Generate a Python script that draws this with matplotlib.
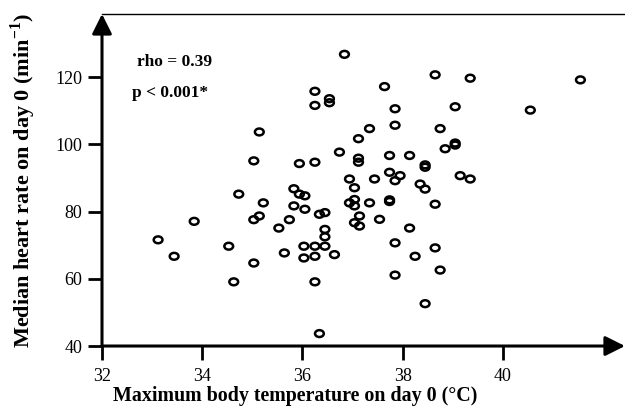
import matplotlib
matplotlib.use("Agg")
import matplotlib.pyplot as plt
from matplotlib.path import Path
from matplotlib.transforms import Affine2D

plt.rcParams['font.family'] = ['Liberation Serif', 'DejaVu Serif']
plt.rcParams['mathtext.fontset'] = 'custom'
plt.rcParams['mathtext.rm'] = 'Liberation Serif'
plt.rcParams['mathtext.bf'] = 'Liberation Serif:bold'

# maximum body temperature (C) and median heart rate (1/min)
temp = [36.84, 36.25, 36.25, 36.54, 36.54, 35.14, 37.12, 36.74, 37.12, 37.12,
        35.03, 35.94, 36.25, 36.94, 37.04, 34.73, 35.83, 35.94, 36.05, 38.65,
        39.35, 41.55, 37.64, 37.85, 39.05, 40.55, 37.34, 37.85, 38.75, 39.05,
        39.05, 38.85, 37.74, 38.14, 38.45, 38.45, 37.74, 37.95, 37.85, 37.44,
        39.15, 39.35, 38.35, 38.45, 36.94, 37.04, 37.04, 37.34, 37.74, 37.74,
        38.65, 37.14, 37.04, 37.14, 37.54, 38.14, 37.85, 38.65, 38.25, 38.75,
        37.85, 38.45, 35.22, 35.83, 36.05, 33.84, 35.03, 35.14, 35.74, 35.53,
        36.34, 36.45, 36.45, 36.45, 33.12, 33.44, 34.53, 35.03, 34.63, 35.64,
        36.03, 36.25, 36.45, 36.03, 36.25, 36.64, 36.25, 36.34]
hr = [126.8, 115.8, 111.6, 112.4, 113.6, 103.7, 101.7, 97.7, 95.9, 94.7,
      95.1, 94.3, 94.7, 89.7, 87.1, 85.2, 86.8, 85.2, 84.7, 120.7,
      119.7, 119.2, 117.2, 110.6, 111.2, 110.2, 104.7, 105.7, 104.7, 100.4,
      99.8, 98.7, 96.7, 96.7, 93.9, 93.2, 91.7, 90.7, 89.2, 89.7,
      90.7, 89.7, 88.2, 86.7, 82.6, 83.6, 81.7, 82.6, 83.5, 83.0,
      82.2, 78.7, 76.7, 75.7, 77.7, 75.1, 70.7, 69.2, 66.7, 62.6,
      61.1, 52.6, 82.6, 81.7, 80.7, 77.1, 77.6, 78.7, 77.6, 75.1,
      79.2, 79.7, 74.7, 72.5, 71.6, 66.7, 69.7, 64.7, 59.1, 67.7,
      69.7, 69.7, 69.7, 66.2, 66.7, 67.2, 59.1, 43.7]

xticks = [32, 34, 36, 38, 40]
yticks = [40, 60, 80, 100, 120]

fig = plt.figure(figsize=(6.25, 4.18), dpi=100)
ax = fig.add_axes([0.1632, 0.1722, 0.8368, 0.7943])

# slightly flattened open circles like the original
ring = Path.unit_circle().transformed(Affine2D().scale(1.0, 0.78))
ax.scatter(temp, hr, s=40, marker=ring, facecolors='none', edgecolors='black',
           linewidths=1.8, zorder=3, clip_on=False)

ax.set_xlim(32, 42.44)
ax.set_ylim(40, 138.8)
ax.set_xticks(xticks)
ax.set_yticks(yticks)
ax.tick_params(axis='both', direction='out', length=10, width=2,
               labelsize=13, color='black')
ax.tick_params(axis='x', pad=6)
ax.tick_params(axis='y', pad=4)

for s in ['left', 'bottom', 'right']:
    ax.spines[s].set_visible(False)
ax.spines['top'].set_linewidth(1)

# axis lines with arrow heads
arrow = dict(arrowstyle='-|>,head_length=0.6,head_width=0.3', lw=2.2,
             color='black', shrinkA=0, shrinkB=0, mutation_scale=20)
ax.annotate('', xy=(1, 0), xytext=(0, 0), xycoords='axes fraction',
            arrowprops=arrow, annotation_clip=False)
ax.annotate('', xy=(0, 1), xytext=(0, 0), xycoords='axes fraction',
            arrowprops=arrow, annotation_clip=False)

fig.text(295 / 625, 1 - 396 / 418, 'Maximum body temperature on day 0 (°C)',
         fontsize=14.4, fontweight='bold', ha='center', va='center')
fig.text(23 / 625, 1 - 181 / 418,
         r'Median heart rate on day 0 (min$^{\mathbf{-1}}$)',
         fontsize=16, fontweight='bold', ha='center', va='center',
         rotation=90)

ax.text(0.066, 0.855, 'rho = 0.39', transform=ax.transAxes, fontsize=12.5,
        fontweight='bold', va='center')
ax.text(0.058, 0.762, 'p < 0.001*', transform=ax.transAxes, fontsize=12.5,
        fontweight='bold', va='center')

fig.savefig('out.png', dpi=100)
